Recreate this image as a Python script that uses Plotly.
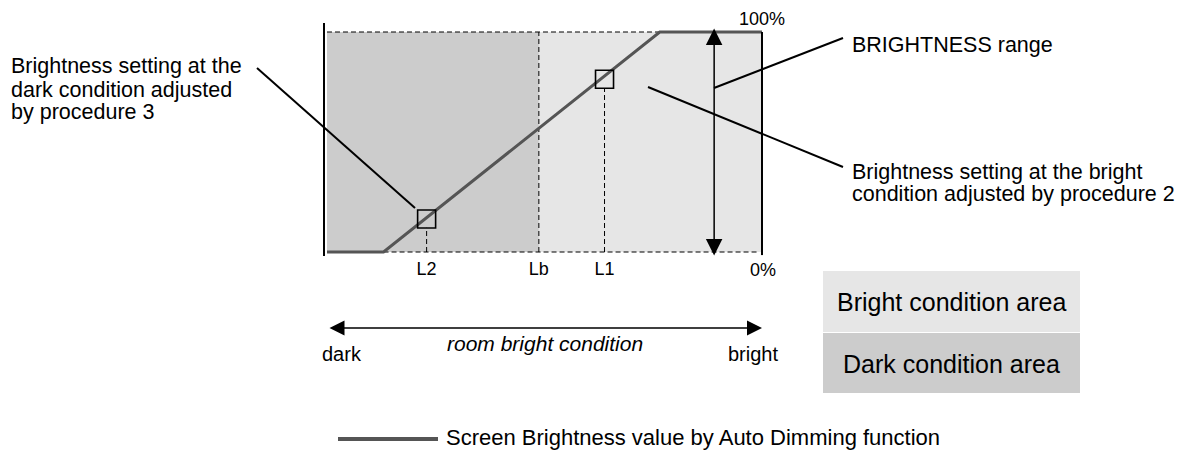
import plotly.graph_objects as go

W, H = 1191, 450
FONT = "Liberation Sans, Arial, Helvetica, sans-serif"

# ---------------- data (x: room brightness 0-100, y: screen brightness %) ----------------
curve_x = [0, 13, 76.5, 100]
curve_y = [0, 0, 100, 100]
Lb = 48.7
L2 = 22.9
L1 = 63.8
setting_x = [L2, L1]
setting_y = [15.0, 78.5]
tick_vals = [L2, Lb, L1]
tick_text = ["L2", "Lb", "L1"]
range_arrow_x = 89.0
y_min_label = "0%"
y_max_label = "100%"

# ---------------- layout geometry (pixel mapping of the axes) ----------------
X0_PX, X_SCALE = 327.0, 4.35      # px of x=0, px per unit
Y0_PX, Y_SCALE = 252.0, 2.2       # px of y=0, px per unit
XR = [-0.46, 101.0]
YR = [-1.8, 104.1]


def PX(x):
    return x / W


def PY(y):
    return 1 - y / H


xdom = [PX(X0_PX + X_SCALE * XR[0]), PX(X0_PX + X_SCALE * XR[1])]
ydom = [PY(Y0_PX - Y_SCALE * YR[0]), PY(Y0_PX - Y_SCALE * YR[1])]

fig = go.Figure()

# Brightness curve
fig.add_trace(go.Scatter(
    x=curve_x, y=curve_y, mode="lines",
    line=dict(color="#555555", width=3),
    showlegend=False, hoverinfo="skip", cliponaxis=False,
))
# Setting markers (open squares)
fig.add_trace(go.Scatter(
    x=setting_x, y=setting_y, mode="markers",
    marker=dict(symbol="square-open", size=18, color="black", line=dict(width=1.6)),
    showlegend=False, hoverinfo="skip", cliponaxis=False,
))

shapes = []
# condition areas
shapes.append(dict(type="rect", xref="x", yref="y", x0=0, x1=Lb, y0=0, y1=100,
                   fillcolor="#cccccc", line=dict(width=0), layer="below"))
shapes.append(dict(type="rect", xref="x", yref="y", x0=Lb, x1=100, y0=0, y1=100,
                   fillcolor="#e6e6e6", line=dict(width=0), layer="below"))
dash = dict(color="black", width=1, dash="5px,3px")
# top dashed line (100%)
shapes.append(dict(type="line", xref="x", yref="y", x0=0, x1=curve_x[2], y0=100, y1=100,
                   line=dash, layer="below"))
# bottom dashed line (0%)
shapes.append(dict(type="line", xref="x", yref="y", x0=curve_x[1], x1=98.8, y0=0, y1=0,
                   line=dash, layer="below"))
# Lb boundary
shapes.append(dict(type="line", xref="x", yref="y", x0=Lb, x1=Lb, y0=0, y1=100,
                   line=dash, layer="below"))
# drop lines from settings
for sx, sy in zip(setting_x, setting_y):
    shapes.append(dict(type="line", xref="x", yref="y", x0=sx, x1=sx, y0=0, y1=sy - 4,
                       line=dash, layer="below"))
# right border
shapes.append(dict(type="line", xref="x", yref="y", x0=100, x1=100, y0=-1.4, y1=100,
                   line=dict(color="black", width=2)))

# leader lines (paper / pixel)
def seg(x0, y0, x1, y1, w=2):
    return dict(type="line", xref="paper", yref="paper",
                x0=PX(x0), y0=PY(y0), x1=PX(x1), y1=PY(y1),
                line=dict(color="black", width=w))

shapes.append(seg(257, 68, 415, 208))
shapes.append(seg(714, 88, 843, 38))
shapes.append(seg(648, 87, 843, 167))

# legend line
shapes.append(dict(type="line", xref="paper", yref="paper",
                   x0=PX(338), x1=PX(438), y0=PY(439), y1=PY(439),
                   line=dict(color="#555555", width=4)))
# area legend boxes
shapes.append(dict(type="rect", xref="paper", yref="paper",
                   x0=PX(823), x1=PX(1080), y0=PY(332), y1=PY(271),
                   fillcolor="#e6e6e6", line=dict(width=0)))
shapes.append(dict(type="rect", xref="paper", yref="paper",
                   x0=PX(823), x1=PX(1080), y0=PY(393), y1=PY(333),
                   fillcolor="#cccccc", line=dict(width=0)))

annotations = []


def txt(x, y, text, size=21.5, xanchor="left", italic=False):
    annotations.append(dict(
        xref="paper", yref="paper", x=PX(x), y=PY(y), text=text,
        showarrow=False, xanchor=xanchor, yanchor="middle", borderpad=0,
        font=dict(family=FONT, size=size, color="black",
                  style="italic" if italic else "normal"),
    ))


# left callout
txt(10, 65.5, "Brightness setting at the")
txt(10, 89.5, "dark condition adjusted")
txt(10, 112, "by procedure 3")
# right callouts
txt(851, 44.5, "BRIGHTNESS range")
txt(851, 171.5, "Brightness setting at the bright")
txt(851, 194, "condition adjusted by procedure 2")
# percent labels
txt(761.5, 18.6, y_max_label, size=18, xanchor="center")
txt(762.5, 269.6, y_min_label, size=18, xanchor="center")
# room condition axis
txt(341.5, 354, "dark", size=20, xanchor="center")
txt(753, 354, "bright", size=20, xanchor="center")
txt(545, 343.6, "room bright condition", size=21, xanchor="center", italic=True)
# area legend
txt(951.5, 302, "Bright condition area", size=25, xanchor="center")
txt(951.5, 363.5, "Dark condition area", size=25, xanchor="center")
# curve legend
txt(445, 437, "Screen Brightness value by Auto Dimming function", size=22)

# BRIGHTNESS range double arrow (data coords)
annotations.append(dict(
    xref="x", yref="y", x=range_arrow_x, y=101.6, axref="x", ayref="y",
    ax=range_arrow_x, ay=-2.3, text="", showarrow=True,
    arrowhead=2, startarrowhead=2, arrowside="end+start",
    arrowsize=2.2, startarrowsize=2.2, arrowwidth=1.5, arrowcolor="black",
))
# room bright condition double arrow
annotations.append(dict(
    xref="paper", yref="paper", x=PX(762), y=PY(328), ax=-434, ay=0,
    text="", showarrow=True,
    arrowhead=2, startarrowhead=2, arrowside="end+start",
    arrowsize=2.0, startarrowsize=2.0, arrowwidth=1.5, arrowcolor="black",
))

fig.update_layout(
    width=W, height=H,
    margin=dict(l=0, r=0, t=0, b=0, pad=0),
    paper_bgcolor="white", plot_bgcolor="rgba(0,0,0,0)",
    showlegend=False,
    font=dict(family=FONT, color="black"),
    shapes=shapes, annotations=annotations,
    xaxis=dict(domain=xdom, range=XR, showgrid=False, zeroline=False, showline=False,
               tickmode="array", tickvals=tick_vals, ticktext=tick_text, ticks="",
               tickfont=dict(family=FONT, size=18, color="black"), fixedrange=True),
    yaxis=dict(domain=ydom, range=YR, showgrid=False, zeroline=False,
               showline=True, linecolor="black", linewidth=2,
               showticklabels=False, ticks="", fixedrange=True),
)

fig.write_html(
    "out.html",
    config={"displayModeBar": False},
    post_script="document.body.style.margin='0';document.body.style.overflow='hidden';",
)
